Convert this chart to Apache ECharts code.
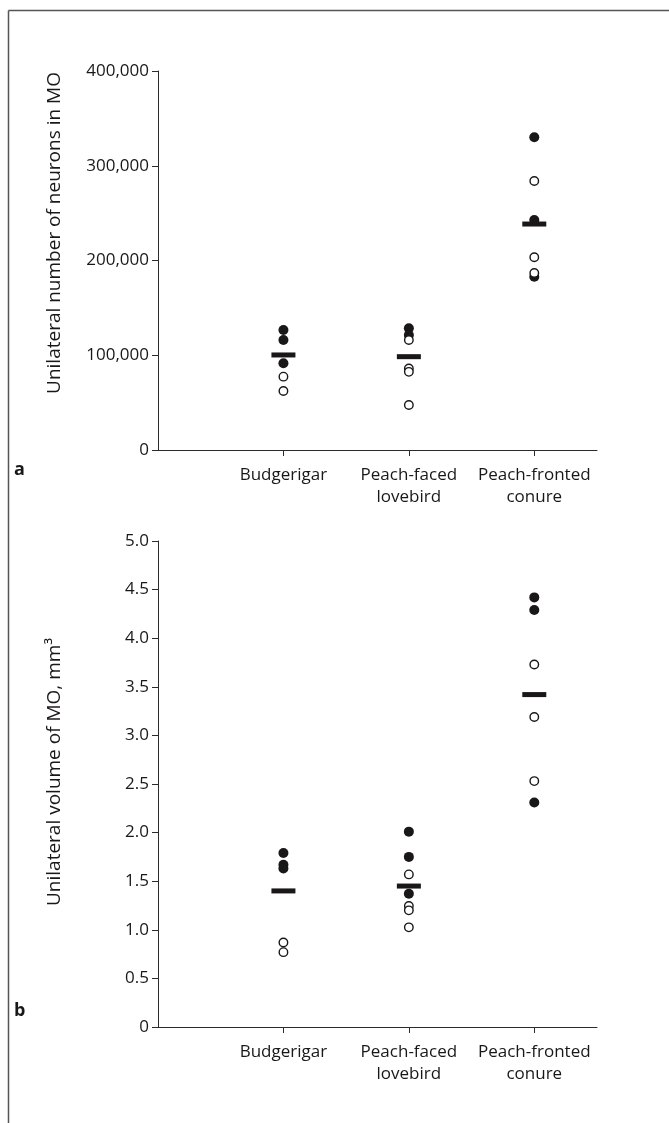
<!DOCTYPE html>
<html>
<head>
<meta charset="utf-8">
<script src="https://cdn.jsdelivr.net/npm/echarts@6/dist/echarts.min.js"></script>
<style>
  html, body { margin: 0; padding: 0; background: #fff; }
  #chart { width: 669px; height: 1123px; }
</style>
</head>
<body>
<div id="chart"></div>
<script>
// species on the x axis, drawn at x = 1, 2, 3
const categories = ['Budgerigar', 'Peach-faced\nlovebird', 'Peach-fronted\nconure'];

// panel a: unilateral number of neurons in MO
const neuronFilled = [
    [126600, 116100, 91500],
    [128400, 121400],
    [330000, 242700, 182900]
];
const neuronOpen = [
    [77400, 62300],
    [116100, 86000, 82500, 47500],
    [283900, 203400, 186800]
];
const neuronMean = [100300, 98500, 238500];

// panel b: unilateral volume of MO, mm3
const volumeFilled = [
    [1.79, 1.67, 1.63],
    [2.01, 1.75, 1.37],
    [4.42, 4.29, 2.31]
];
const volumeOpen = [
    [0.87, 0.77],
    [1.57, 1.245, 1.20, 1.025],
    [3.73, 3.19, 2.53]
];
const volumeMean = [1.40, 1.45, 3.42];

const INK = '#1a1718';
const FONT = 'Open Sans';

function toPoints(groups) {
    const out = [];
    groups.forEach((vals, i) => vals.forEach(v => out.push([i + 1, v])));
    return out;
}

function xAxisFor(gridIndex) {
    return {
        type: 'value',
        gridIndex,
        min: 0,
        max: 3.5,
        interval: 1,
        splitLine: { show: false },
        axisLine: { lineStyle: { color: '#2b2b2b', width: 1 } },
        axisTick: { show: true, length: 6, customValues: [1, 2, 3], lineStyle: { color: '#2b2b2b' } },
        axisLabel: {
            customValues: [1, 2, 3],
            formatter: v => categories[Math.round(v) - 1] || '',
            color: INK,
            fontFamily: FONT,
            fontSize: 17,
            lineHeight: 22,
            margin: 14
        }
    };
}

function yAxisFor(gridIndex, max, interval, fmt) {
    return {
        type: 'value',
        gridIndex,
        min: 0,
        max,
        interval,
        splitLine: { show: false },
        axisLine: { show: true, lineStyle: { color: '#2b2b2b', width: 1 } },
        axisTick: { show: true, length: 6, lineStyle: { color: '#2b2b2b' } },
        axisLabel: { formatter: fmt, color: INK, fontFamily: FONT, fontSize: 17, margin: 9 }
    };
}

function seriesFor(idx, filled, open, mean) {
    return [
        {
            type: 'scatter', xAxisIndex: idx, yAxisIndex: idx,
            symbol: 'circle', symbolSize: 10,
            itemStyle: { color: INK, opacity: 1 },
            data: toPoints(filled), z: 3
        },
        {
            type: 'scatter', xAxisIndex: idx, yAxisIndex: idx,
            symbol: 'circle', symbolSize: 8.5,
            itemStyle: { color: '#fff', borderColor: INK, borderWidth: 1.4, opacity: 1 },
            data: toPoints(open), z: 4
        },
        {
            type: 'scatter', xAxisIndex: idx, yAxisIndex: idx,
            symbol: 'rect', symbolSize: [24, 5],
            itemStyle: { color: INK, opacity: 1 },
            data: mean.map((v, i) => [i + 1, v]), z: 5
        }
    ];
}

const chart = echarts.init(document.getElementById('chart'), null, { renderer: 'canvas' });

chart.setOption({
    backgroundColor: '#fff',
    animation: false,
    grid: [
        { left: 158, top: 71, width: 439, height: 379 },
        { left: 158, top: 541, width: 439, height: 486 }
    ],
    xAxis: [xAxisFor(0), xAxisFor(1)],
    yAxis: [
        yAxisFor(0, 400000, 100000, v => v.toLocaleString('en-US')),
        yAxisFor(1, 5, 0.5, v => (v === 0 ? '0' : v.toFixed(1)))
    ],
    series: [
        ...seriesFor(0, neuronFilled, neuronOpen, neuronMean),
        ...seriesFor(1, volumeFilled, volumeOpen, volumeMean)
    ],
    graphic: [
        // figure frame, top and left edges
        { type: 'line', shape: { x1: 8.5, y1: 10.5, x2: 669, y2: 10.5 }, style: { stroke: '#555', lineWidth: 1.5 } },
        { type: 'line', shape: { x1: 8.5, y1: 10.5, x2: 8.5, y2: 1123 }, style: { stroke: '#555', lineWidth: 1.5 } },
        {
            type: 'text', x: 55, y: 233, rotation: Math.PI / 2,
            style: { text: 'Unilateral number of neurons in MO', fill: INK, font: '19px "Open Sans"', align: 'center', verticalAlign: 'middle' }
        },
        {
            type: 'text', x: 55, y: 772, rotation: Math.PI / 2,
            style: { text: 'Unilateral volume of MO, mm³', fill: INK, font: '19px "Open Sans"', align: 'center', verticalAlign: 'middle' }
        },
        { type: 'text', x: 14, y: 470, style: { text: 'a', fill: INK, font: 'bold 18px "Open Sans"', verticalAlign: 'middle' } },
        { type: 'text', x: 14, y: 1011, style: { text: 'b', fill: INK, font: 'bold 18px "Open Sans"', verticalAlign: 'middle' } }
    ]
});
</script>
</body>
</html>
